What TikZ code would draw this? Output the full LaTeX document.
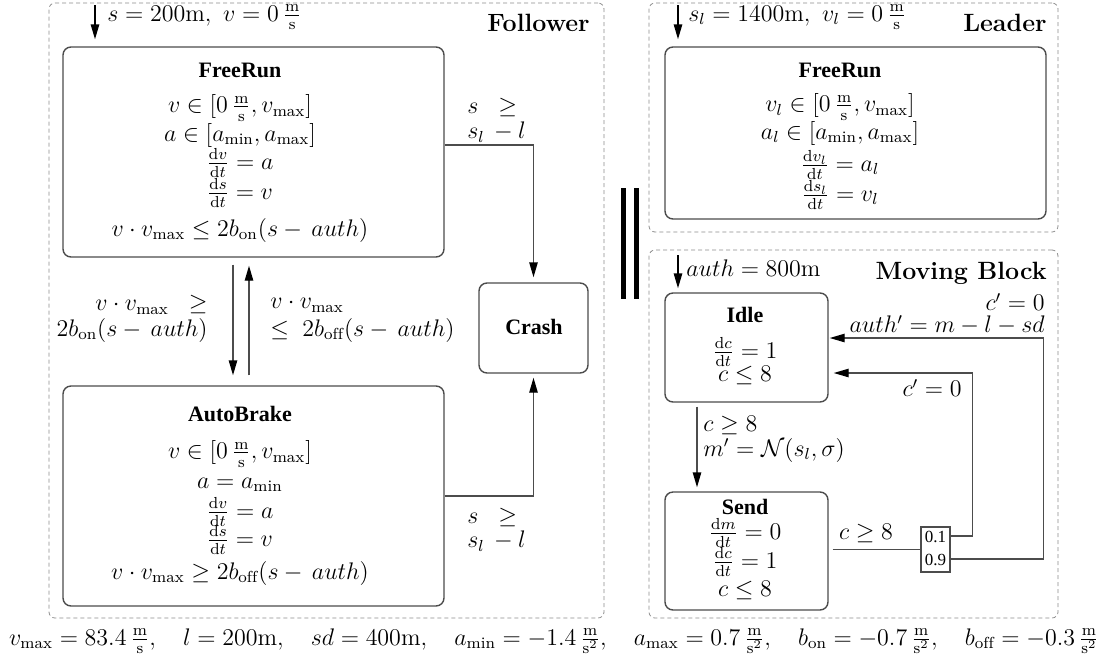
\documentclass[tikz,border=0pt]{standalone}
\usepackage{fontspec}
\newfontfamily\tms{Liberation Serif}
\usetikzlibrary{arrows.meta,fit}
\begin{document}
\begin{tikzpicture}[x=0.5pt,y=-0.5pt,
 panel/.style={draw=black!45, dash pattern=on 2pt off 1.5pt, line width=0.4pt, rounded corners=3pt},
 statebox/.style={draw=black!70, line width=0.7pt, rounded corners=4pt, inner sep=0pt},
 txt/.style={inner sep=0pt, font=\fontsize{12}{14}\selectfont},
 stitle/.style={inner sep=0pt, font=\fontsize{11}{13}\selectfont\tms\bfseries},
 ptitle/.style={inner sep=0pt, font=\fontsize{12.5}{15}\selectfont\bfseries},
 conn/.style={draw=black!70, line width=0.7pt},
 arr/.style={conn, -{Triangle[length=7.5pt,width=4.2pt,color=black]}},
 initarr/.style={draw=black, line width=0.8pt, -{Triangle[length=7.5pt,width=4.2pt]}},
 bar/.style={draw=black, line width=2.5pt},
]
\useasboundingbox (0,0) rectangle (1109,660);
% panels
\node[panel, fit={(49,3) (604,618)}, inner sep=0pt] (follower) {};
\node[panel, fit={(649,3) (1058,232)}, inner sep=0pt] (leader) {};
\node[panel, fit={(649,250) (1058,618)}, inner sep=0pt] (mblock) {};
\node[ptitle, anchor=east] (tfol) at (590,23) {Follower};
\node[ptitle, anchor=east] (tlead) at (1047,23) {Leader};
\node[ptitle, anchor=east] (tmb) at (1047,273) {Moving Block};
% parallel bars
\coordinate (b1t) at (623.5,188); \coordinate (b1b) at (623.5,299);
\coordinate (b2t) at (636.5,188); \coordinate (b2b) at (636.5,299);
\draw[bar] (b1t) -- (b1b);
\draw[bar] (b2t) -- (b2b);
% ---------- Follower ----------
\node[statebox, fit={(63,47) (444,257)}] (fr) {};
\node[stitle] (frt) at (240,70) {FreeRun};
\node[txt] (fr1) at (240,108) {$v\in[0\,\frac{\mathrm{m}}{\mathrm{s}},v_{\max}]$};
\node[txt] (fr2) at (240,135) {$a\in[a_{\min},a_{\max}]$};
\node[txt] (fr3) at (240,163) {$\frac{\mathrm{d}v}{\mathrm{d}t}=a$};
\node[txt] (fr4) at (240,193) {$\frac{\mathrm{d}s}{\mathrm{d}t}=v$};
\node[txt] (fr5) at (240,230) {$v\cdot v_{\max}\leq 2b_{\mathrm{on}}(s-\,auth)$};

\node[statebox, fit={(63,386) (444,606)}] (ab) {};
\node[stitle] (abt) at (240,414) {AutoBrake};
\node[txt] (ab1) at (240,454) {$v\in[0\,\frac{\mathrm{m}}{\mathrm{s}},v_{\max}]$};
\node[txt] (ab2) at (240,485) {$a=a_{\min}$};
\node[txt] (ab3) at (240,512) {$\frac{\mathrm{d}v}{\mathrm{d}t}=a$};
\node[txt] (ab4) at (240,540) {$\frac{\mathrm{d}s}{\mathrm{d}t}=v$};
\node[txt] (ab5) at (240,573) {$v\cdot v_{\max}\geq 2b_{\mathrm{off}}(s-\,auth)$};

\node[statebox, fit={(479,283) (588,373)}] (crash) {};
\node[stitle] (crasht) at (534,327) {Crash};

\coordinate (finit) at (95,5);
\draw[initarr, shorten >=3.5pt] (finit) -- (finit |- fr.north);
\node[txt, anchor=west] (finitl) at (107,17) {$s=200\mathrm{m},\ v=0\,\frac{\mathrm{m}}{\mathrm{s}}$};

\draw[arr, shorten <=3.5pt, shorten >=5pt] ([xshift=-10.25pt]fr.south) -- ([xshift=-10.25pt]ab.north);
\draw[arr, shorten <=5pt, shorten >=4pt] ([xshift=-2.25pt]ab.north) -- ([xshift=-2.25pt]fr.south);
\node[txt, anchor=east] (lon1) at (208,305) {$v\cdot v_{\max}\;\;\geq$};
\node[txt, anchor=east] (lon2) at (208,330) {$2b_{\mathrm{on}}(s-\,auth)$};
\node[txt, anchor=west] (loff1) at (270,305) {$v\cdot v_{\max}$};
\node[txt, anchor=west] (loff2) at (270,330) {$\leq\;2b_{\mathrm{off}}(s-\,auth)$};

\draw[arr, shorten >=2.5pt] ([yshift=3.5pt]fr.east) -| (crash.north);
\node[txt, anchor=west] (c1a) at (467,107) {$s\;\;\geq$};
\node[txt, anchor=west] (c1b) at (467,132) {$s_l\,-l$};
\draw[arr, shorten >=2pt] (ab.east) -| (crash.south);
\node[txt, anchor=west] (c2a) at (467,517) {$s\;\;\geq$};
\node[txt, anchor=west] (c2b) at (467,541) {$s_l\,-l$};
% ---------- Leader ----------
\node[statebox, fit={(665,47) (1046,219)}] (lfr) {};
\node[stitle] (lfrt) at (840,70) {FreeRun};
\node[txt] (lfr1) at (840,107) {$v_l\in[0\,\frac{\mathrm{m}}{\mathrm{s}},v_{\max}]$};
\node[txt] (lfr2) at (840,133) {$a_l\in[a_{\min},a_{\max}]$};
\node[txt] (lfr3) at (840,165) {$\frac{\mathrm{d}v_l}{\mathrm{d}t}=a_l$};
\node[txt] (lfr4) at (840,195) {$\frac{\mathrm{d}s_l}{\mathrm{d}t}=v_l$};
\coordinate (linit) at (678,5);
\draw[initarr, shorten >=3.5pt] (linit) -- (linit |- lfr.north);
\node[txt, anchor=west] (linitl) at (688,17) {$s_l=1400\mathrm{m},\ v_l=0\,\frac{\mathrm{m}}{\mathrm{s}}$};
% ---------- Moving Block ----------
\node[statebox, fit={(665,293) (828,402)}] (idle) {};
\node[stitle] (idlet) at (745,315) {Idle};
\node[txt] (idle1) at (745,352) {$\frac{\mathrm{d}c}{\mathrm{d}t}=1$};
\node[txt] (idle2) at (745,375) {$c\leq 8$};

\node[statebox, fit={(665,492) (828,610)}] (send) {};
\node[stitle] (sendt) at (745,507) {Send};
\node[txt] (send1) at (745,533) {$\frac{\mathrm{d}m}{\mathrm{d}t}=0$};
\node[txt] (send2) at (745,562) {$\frac{\mathrm{d}c}{\mathrm{d}t}=1$};
\node[txt] (send3) at (745,590) {$c\leq 8$};

\coordinate (minit) at (678,255);
\draw[initarr, shorten >=2pt] (minit) -- (minit |- idle.north);
\node[txt, anchor=west] (minitl) at (686,268) {$auth=800\mathrm{m}$};

\draw[arr, shorten <=2pt, shorten >=2pt] ([xshift=-24.75pt]idle.south) -- ([xshift=-24.75pt]send.north);
\node[txt, anchor=west] (is1) at (703,425) {$c\geq 8$};
\node[txt, anchor=west] (is2) at (703,450) {$m'=\mathcal{N}(s_l,\sigma)$};

\node[draw=black!70, line width=0.7pt, fit={(921,527) (950,572)}, inner sep=0pt] (prob) {};
\node[inner sep=0pt, font=\fontsize{8.5}{10}\selectfont\tms] (p1) at (935.5,537) {0.1};
\node[inner sep=0pt, font=\fontsize{8.5}{10}\selectfont\tms] (p9) at (935.5,560) {0.9};
\draw[conn, shorten <=2pt] (send.east |- prob.west) -- (prob.west);
\node[txt] (sp) at (866,533) {$c\geq 8$};

\draw[arr, shorten >=2.5pt] ([yshift=6.75pt]prob.east) -- ++(11pt,0) |- ([yshift=-12.75pt]idle.east);
\node[txt, anchor=east] (r1) at (962,388) {$c'=0$};
\draw[arr, shorten >=0.5pt] ([yshift=-4.75pt]prob.east) -- ++(46.5pt,0) |- ([yshift=4.75pt]idle.east);
\node[txt, anchor=east] (r2a) at (1045,302) {$c'=0$};
\node[txt, anchor=east] (r2b) at (1045,325) {$auth'=m-l-sd$};
% ---------- constants ----------
\node[txt] (consts) at (554,641) {$v_{\max}=83.4\,\frac{\mathrm{m}}{\mathrm{s}},\hspace{11.6pt} l=200\mathrm{m},\hspace{11.6pt} sd=400\mathrm{m},\hspace{11.6pt} a_{\min}=-1.4\,\frac{\mathrm{m}}{\mathrm{s}^2},\hspace{11.6pt} a_{\max}=0.7\,\frac{\mathrm{m}}{\mathrm{s}^2},\hspace{11.6pt} b_{\mathrm{on}}=-0.7\,\frac{\mathrm{m}}{\mathrm{s}^2},\hspace{11.6pt} b_{\mathrm{off}}=-0.3\,\frac{\mathrm{m}}{\mathrm{s}^2}$};
\end{tikzpicture}
\end{document}
